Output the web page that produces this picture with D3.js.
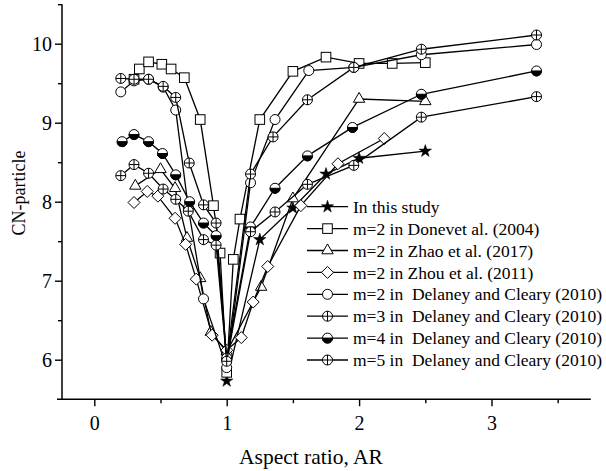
<!DOCTYPE html>
<html>
<head>
<meta charset="utf-8">
<script src="https://cdn.jsdelivr.net/npm/d3@7"></script>
<style>
  html, body { margin: 0; padding: 0; background: #fff; }
  svg { display: block; font-family: "Liberation Serif", "Times New Roman", serif; }
</style>
</head>
<body>
<svg id="chart" width="606" height="471"></svg>
<script>
// Coordination number of particles versus aspect ratio

// In this study
const studyAR = [1.00, 1.25, 1.50, 1.75, 2.00, 2.50];
const studyCN = [5.73, 7.52, 7.92, 8.35, 8.55, 8.64];

// m=2, Donevet et al. (2004)
const donevetAR = [0.30, 0.34, 0.41, 0.51, 0.58, 0.68, 0.80, 0.90, 0.95, 1.00, 1.05, 1.10, 1.25, 1.50, 1.75, 2.00, 2.25, 2.50];
const donevetCN = [9.55, 9.68, 9.77, 9.74, 9.68, 9.57, 9.04, 7.95, 7.35, 5.84, 7.27, 7.78, 9.04, 9.65, 9.83, 9.75, 9.75, 9.76];

// m=2, Zhao et al. (2017)
const zhaoAR = [0.31, 0.50, 0.61, 0.70, 0.80, 0.88, 1.00, 1.26, 1.50, 2.00, 2.50];
const zhaoCN = [8.20, 8.41, 8.17, 7.54, 7.03, 6.35, 6.10, 6.92, 8.04, 9.30, 9.27];

// m=2, Zhou et al. (2011)
const zhouAR = [0.30, 0.40, 0.48, 0.61, 0.69, 0.77, 0.89, 1.00, 1.11, 1.20, 1.31, 1.56, 1.84, 2.19];
const zhouCN = [7.99, 8.13, 8.07, 7.79, 7.46, 7.02, 6.31, 6.12, 6.28, 6.73, 7.18, 7.95, 8.48, 8.80];

// Delaney and Cleary (2010), m = 2, 3, 4, 5
const dc2AR = [0.20, 0.30, 0.41, 0.52, 0.615, 0.71, 0.825, 1.00, 1.18, 1.365, 1.62, 1.96, 2.47, 3.34];
const dc2CN = [9.39, 9.53, 9.55, 9.45, 9.16, 7.92, 6.77, 5.90, 8.24, 9.04, 9.66, 9.70, 9.86, 9.99];

const dc3AR = [0.20, 0.30, 0.41, 0.52, 0.615, 0.717, 0.825, 0.92, 1.00, 1.18, 1.35, 1.61, 1.96, 2.47, 3.34];
const dc3CN = [9.56, 9.55, 9.55, 9.46, 9.32, 8.49, 7.96, 7.73, 6.00, 8.35, 8.82, 9.29, 9.70, 9.93, 10.11];

const dc4AR = [0.21, 0.30, 0.41, 0.515, 0.615, 0.72, 0.825, 0.92, 1.00, 1.18, 1.365, 1.61, 1.95, 2.47, 3.34];
const dc4CN = [8.76, 8.85, 8.76, 8.61, 8.34, 8.00, 7.73, 7.57, 6.02, 7.68, 8.17, 8.58, 8.94, 9.36, 9.655];

const dc5AR = [0.20, 0.30, 0.41, 0.52, 0.615, 0.71, 0.825, 0.92, 1.00, 1.18, 1.365, 1.61, 1.96, 2.47, 3.34];
const dc5CN = [8.33, 8.47, 8.36, 8.16, 8.03, 7.88, 7.52, 7.45, 5.98, 7.62, 7.87, 8.22, 8.46, 9.07, 9.33];

const seriesLabels = [
  "In this study",
  "m=2 in Donevet al. (2004)",
  "m=2 in Zhao et al. (2017)",
  "m=2 in Zhou et al. (2011)",
  "m=2 in\u00a0 Delaney and Cleary (2010)",
  "m=3 in\u00a0 Delaney and Cleary (2010)",
  "m=4 in\u00a0 Delaney and Cleary (2010)",
  "m=5 in\u00a0 Delaney and Cleary (2010)"
];
const seriesMarkers = ["star", "square", "triangle", "diamond", "circle", "cross", "half", "cross"];

const xMajor = [0, 1, 2, 3];
const xMinor = [0.5, 1.5, 2.5, 3.5];
const yMajor = [6, 7, 8, 9, 10];
const yMinor = [6.5, 7.5, 8.5, 9.5, 10.5];

const xTitle = "Aspect ratio, AR";
const yTitle = "CN-particle";

// ---------------------------------------------------------------
const series = [
  [studyAR, studyCN], [donevetAR, donevetCN], [zhaoAR, zhaoCN], [zhouAR, zhouCN],
  [dc2AR, dc2CN], [dc3AR, dc3CN], [dc4AR, dc4CN], [dc5AR, dc5CN]
].map(([ar, cn], i) => ({
  label: seriesLabels[i],
  marker: seriesMarkers[i],
  points: ar.map((a, j) => ({ ar: a, cn: cn[j] }))
}));

const svg = d3.select("#chart");
const x = d3.scaleLinear().domain([-0.25, 3.75]).range([61.2, 590.8]);
const y = d3.scaleLinear().domain([5.5, 10.5]).range([399.2, 4.2]);

const INK = "#000";

function drawMarker(g, type) {
  const sw = 1;
  switch (type) {
    case "star":
      g.append("path").attr("d", d3.symbol(d3.symbolStar, 48)())
        .attr("fill", INK).attr("stroke", INK).attr("stroke-width", 0.5);
      break;
    case "square":
      g.append("rect").attr("x", -4.8).attr("y", -4.8).attr("width", 9.6).attr("height", 9.6)
        .attr("fill", "#fff").attr("stroke", INK).attr("stroke-width", sw);
      break;
    case "triangle":
      g.append("path").attr("d", d3.symbol(d3.symbolTriangle, 56)())
        .attr("fill", "#fff").attr("stroke", INK).attr("stroke-width", sw);
      break;
    case "diamond":
      g.append("path").attr("d", "M0,-6L6,0L0,6L-6,0Z")
        .attr("fill", "#fff").attr("stroke", INK).attr("stroke-width", sw);
      break;
    case "circle":
      g.append("circle").attr("r", 5)
        .attr("fill", "#fff").attr("stroke", INK).attr("stroke-width", sw);
      break;
    case "cross":
      g.append("circle").attr("r", 5)
        .attr("fill", "#fff").attr("stroke", INK).attr("stroke-width", sw);
      g.append("path").attr("d", "M-5,0H5M0,-5V5")
        .attr("stroke", INK).attr("stroke-width", sw).attr("fill", "none");
      break;
    case "half":
      g.append("circle").attr("r", 5)
        .attr("fill", "#fff").attr("stroke", INK).attr("stroke-width", sw);
      g.append("path").attr("d", "M-5,0A5,5 0 0,0 5,0Z")
        .attr("fill", INK).attr("stroke", INK).attr("stroke-width", sw);
      break;
  }
}

// Axes
const axisStyle = sel => {
  sel.select(".domain").remove();
  sel.selectAll("line").attr("stroke", INK).attr("stroke-width", 1.4);
  sel.selectAll("text").attr("fill", INK).attr("font-size", 20)
    .attr("font-family", '"Liberation Serif", "Times New Roman", serif');
};

const x0 = x.range()[0] + 0.8;   // y-axis position
const yBase = y.range()[0];      // x-axis position

svg.append("g").attr("transform", `translate(${x0},0)`)
  .call(d3.axisLeft(y).tickValues(yMajor).tickFormat(d3.format("d")).tickSize(7).tickPadding(3))
  .call(axisStyle);
svg.append("g").attr("transform", `translate(${x0},0)`)
  .call(d3.axisLeft(y).tickValues(yMinor).tickFormat("").tickSize(4))
  .call(axisStyle);
svg.append("g").attr("transform", `translate(0,${yBase})`)
  .call(d3.axisBottom(x).tickValues(xMajor).tickFormat(d3.format("d")).tickSize(7).tickPadding(10))
  .call(axisStyle);
svg.append("g").attr("transform", `translate(0,${yBase})`)
  .call(d3.axisBottom(x).tickValues(xMinor).tickFormat("").tickSize(4))
  .call(axisStyle);

svg.append("line")
  .attr("x1", x0).attr("x2", x0).attr("y1", y.range()[1]).attr("y2", yBase)
  .attr("stroke", INK).attr("stroke-width", 1.5);
svg.append("line")
  .attr("x1", x0 - 5).attr("x2", x.range()[1]).attr("y1", yBase).attr("y2", yBase)
  .attr("stroke", INK).attr("stroke-width", 1.5);

// Axis titles
svg.append("text")
  .attr("x", 311).attr("y", 464)
  .attr("text-anchor", "middle").attr("font-size", 21.5).attr("fill", INK)
  .text(xTitle);
svg.append("text")
  .attr("transform", "translate(25,193) rotate(-90)")
  .attr("text-anchor", "middle").attr("font-size", 18).attr("fill", INK)
  .text(yTitle);

// Series: line then markers
const line = d3.line().x(d => x(d.ar)).y(d => y(d.cn));
const plot = svg.append("g");
series.forEach(s => {
  const g = plot.append("g");
  g.append("path").datum(s.points).attr("d", line)
    .attr("fill", "none").attr("stroke", INK).attr("stroke-width", 1.3);
  g.selectAll("g.pt").data(s.points).join("g")
    .attr("class", "pt")
    .attr("transform", d => `translate(${x(d.ar)},${y(d.cn)})`)
    .each(function () { drawMarker(d3.select(this), s.marker); });
});

// Legend
const legend = svg.append("g").attr("transform", "translate(307,206.7)");
series.forEach((s, i) => {
  const row = legend.append("g").attr("transform", `translate(0,${i * 21.9})`);
  row.append("line").attr("x1", 0).attr("x2", 41).attr("y1", 0).attr("y2", 0)
    .attr("stroke", INK).attr("stroke-width", 1.3);
  drawMarker(row.append("g").attr("transform", "translate(20.5,0)"), s.marker);
  row.append("text").attr("x", 46).attr("y", 0).attr("dy", "0.35em")
    .attr("font-size", 17.5).attr("fill", INK)
    .text(s.label);
});
</script>
</body>
</html>
